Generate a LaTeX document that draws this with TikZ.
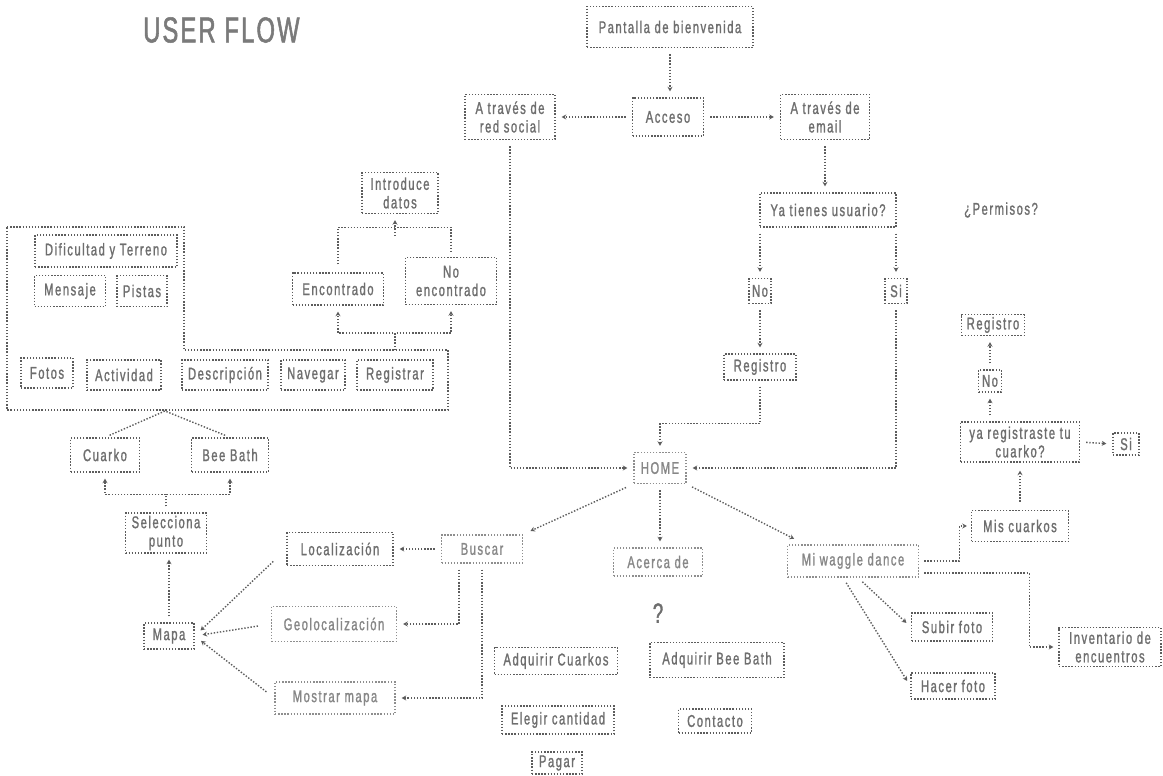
\documentclass[tikz,border=0pt]{standalone}
\usepackage{fontspec}
\setmainfont{Liberation Sans}[FakeStretch=0.66,LetterSpace=9,FakeBold=1.2]
\newfontfamily\headfont{Liberation Sans}[FakeStretch=0.66,LetterSpace=6,FakeBold=1.5]
\usetikzlibrary{arrows.meta}
\definecolor{ink}{HTML}{6E6E6E}
\definecolor{edge}{HTML}{5C5C5C}
\definecolor{paleink}{HTML}{878787}
\definecolor{paleedge}{HTML}{8E8E8E}
\definecolor{headgray}{HTML}{7A7A7A}
\newcommand\boxfont{\fontsize{17}{18.5}\selectfont}

\tikzset{
  dotline/.style={line width=1.4pt, dash pattern=on 1.4pt off 1.7pt},
  flowbox/.style={draw=edge, dotline, text=ink, font=\boxfont, align=center, inner sep=2pt},
  palebox/.style={flowbox, draw=paleedge, text=paleink},
  sz/.style 2 args={minimum width=#1pt, minimum height=#2pt},
  conn/.style={draw=edge, dotline, shorten <=6pt, shorten >=6pt},
  link/.style={conn, -{Stealth[length=4.5pt,width=5pt]}},
}

\begin{document}
\begin{tikzpicture}[x=1pt, y=-1pt]
\useasboundingbox (0,0) rectangle (1163,776);
\fill[white] (0,0) rectangle (1163,776);

% title
\node[text=headgray, font=\headfont\fontsize{36}{40}\selectfont, anchor=west, inner sep=0pt] (title) at (143,30) {USER FLOW};

% entry and access
\node[flowbox, sz={166}{41}] (pan) at (670,27) {Pantalla de bienvenida};
\node[flowbox, sz={71}{38}] (acc) at (668,117) {Acceso};
\node[flowbox, sz={90}{45}] (red) at (510,117) {A través de\\red social};
\node[flowbox, sz={89}{45}] (ema) at (825,117) {A través de\\email};
\node[flowbox, sz={136}{34}] (ya) at (828,210) {Ya tienes usuario?};
\node[text=ink, font=\boxfont] (perm) at (1001,210) {¿Permisos?};
\node[flowbox, sz={22}{25}, inner sep=1pt] (no1) at (760,291) {No};
\node[flowbox, sz={22}{25}, inner sep=1pt] (si1) at (896,291) {Si};
\node[flowbox, sz={72}{26}] (reg1) at (760,367) {Registro};
\node[palebox, sz={52}{31}] (home) at (660,468) {HOME};

% home branches
\node[palebox, sz={81}{28}] (buscar) at (482,549) {Buscar};
\node[palebox, sz={89}{28}] (acerca) at (658,562) {Acerca de};
\node[palebox, sz={131}{32}] (waggle) at (853,561) {Mi waggle dance};
\node[text=ink, font=\fontsize{28}{30}\selectfont] (q) at (658,613) {?};
\node[flowbox, sz={123}{27}] (adqc) at (556,661) {Adquirir Cuarkos};
\node[flowbox, sz={134}{35}] (adqb) at (717,660) {Adquirir Bee Bath};
\node[flowbox, sz={112}{28}] (eleg) at (558,720) {Elegir cantidad};
\node[flowbox, sz={73}{24}] (cont) at (715,721) {Contacto};
\node[flowbox, sz={50}{22}] (pagar) at (557,763) {Pagar};

% waggle dance side
\node[flowbox, sz={97}{31}] (mis) at (1020,526) {Mis cuarkos};
\node[flowbox, sz={119}{40}] (yareg) at (1020,442) {ya registraste tu\\cuarko?};
\node[flowbox, sz={26}{22}, inner sep=1pt] (si2) at (1126,444) {Si};
\node[flowbox, sz={23}{22}, inner sep=1pt] (no2) at (990,381) {No};
\node[flowbox, sz={63}{21}] (reg2) at (993,325) {Registro};
\node[flowbox, sz={102}{39}] (inv) at (1110,647) {Inventario de\\encuentros};
\node[flowbox, sz={81}{28}] (subir) at (952,627) {Subir foto};
\node[flowbox, sz={84}{26}] (hacer) at (953,686) {Hacer foto};

% search side
\node[flowbox, sz={106}{33}] (loc) at (340,549) {Localización};
\node[palebox, sz={125}{35}] (geo) at (334,624) {Geolocalización};
\node[palebox, sz={120}{32}] (most) at (335,698) {Mostrar mapa};
\node[flowbox, sz={50}{26}] (mapa) at (169,636) {Mapa};
\node[flowbox, sz={81}{40}] (sel) at (166,533) {Selecciona\\punto};
\node[flowbox, sz={69}{34}] (cuarko) at (105,455) {Cuarko};
\node[flowbox, sz={77}{34}] (bee) at (230,455) {Bee Bath};

% point detail group
\draw[edge, dotline] (7,227) -- (184,227) -- (184,350) -- (448,350) -- (448,410) -- (7,410) -- cycle;
\coordinate (peak) at (165,411);
\coordinate (grouptop) at (395,350);
\node[flowbox, sz={142}{32}] (dif) at (106,251) {Dificultad y Terreno};
\node[flowbox, sz={71}{31}] (mens) at (70,291) {Mensaje};
\node[flowbox, sz={50}{31}] (pist) at (142,291) {Pistas};
\node[flowbox, sz={52}{30}] (fotos) at (47,373) {Fotos};
\node[flowbox, sz={74}{30}] (activ) at (124,375) {Actividad};
\node[flowbox, sz={86}{30}] (desc) at (225,375) {Descripción};
\node[flowbox, sz={64}{30}] (nav) at (313,375) {Navegar};
\node[flowbox, sz={76}{30}] (regis) at (395,375) {Registrar};
\node[flowbox, sz={91}{32}] (enc) at (338,289) {Encontrado};
\node[flowbox, sz={91}{47}] (noenc) at (451,281) {No\\encontrado};
\node[flowbox, sz={76}{41}] (intro) at (400,193) {Introduce\\datos};
\coordinate (join) at (395,236);

% connectors: access
\draw[link] (pan) -- (pan |- acc.north);
\draw[link] (acc) -- (red);
\draw[link] (acc) -- (ema);
\draw[link] (ema.south) -- (ema.south |- ya.north);
\draw[link] (no1.north |- ya.south) -- (no1.north);
\draw[link] (si1.north |- ya.south) -- (si1.north);
\draw[link] (no1.south) -- (reg1.north);
\draw[link] (reg1.south) -- ++(0,43) -| (home.north);
\draw[link] (si1.south) |- (home.east);
\draw[link] (red.south) |- (home.west);

% connectors: home
\draw[link, shorten <=8pt, shorten >=8pt] (home.south west) -- (buscar.north east);
\draw[link] (home.south) -- (home.south |- acerca.north);
\draw[link, shorten >=12pt] (home.south east) -- ([xshift=18pt]waggle.north west);

% connectors: search
\draw[link] (buscar.west) -- (loc.east);
\draw[link] ([xshift=-23pt]buscar.south) |- (geo.east);
\draw[link] (buscar.south) |- (most.east);
\draw[link, shorten <=18pt, shorten >=8pt] (loc.west) -- (mapa.east);
\draw[link, shorten <=13pt, shorten >=8pt] (geo.west) -- (mapa.east);
\draw[link, shorten <=10pt, shorten >=8pt] (most.west) -- (mapa.east);
\draw[link] (mapa.north) -- (mapa.north |- sel.south);
\draw[link] (sel.north) -- ++(0,-18) -| (cuarko.south);
\draw[link] (sel.north) -- ++(0,-18) -| (bee.south);
\draw[conn, shorten <=5pt, shorten >=5pt] (cuarko.north) -- (peak) -- (bee.north);
\draw[link, shorten <=0pt] (grouptop) -- ++(0,-17) -| (enc.south);
\draw[link, shorten <=0pt] (grouptop) -- ++(0,-17) -| (noenc.south);
\draw[conn, shorten <=8pt, shorten >=5pt] (enc.north) -- ++(0,-45) -| (noenc.north);
\draw[link, shorten <=0pt] (join) -- (join |- intro.south);

% connectors: waggle dance
\draw[link, shorten <=5pt, shorten >=4pt] (waggle.east) -- ++(40,0) |- (mis.west);
\draw[link, shorten <=5pt, shorten >=5pt] ([yshift=-12pt]waggle.east) -- ++(110,0) |- (inv.west);
\draw[link, shorten <=8pt, shorten >=8pt] (mis.north) -- (yareg.south);
\draw[link] (yareg.east) -- (si2.west);
\draw[link] (no2.south |- yareg.north) -- (no2.south);
\draw[link] (no2.north) -- (no2.north |- reg2.south);
\draw[link] ([xshift=5pt]waggle.south) -- (subir.west);
\draw[link] ([xshift=-10pt]waggle.south) -- (hacer.west);
\end{tikzpicture}
\end{document}
